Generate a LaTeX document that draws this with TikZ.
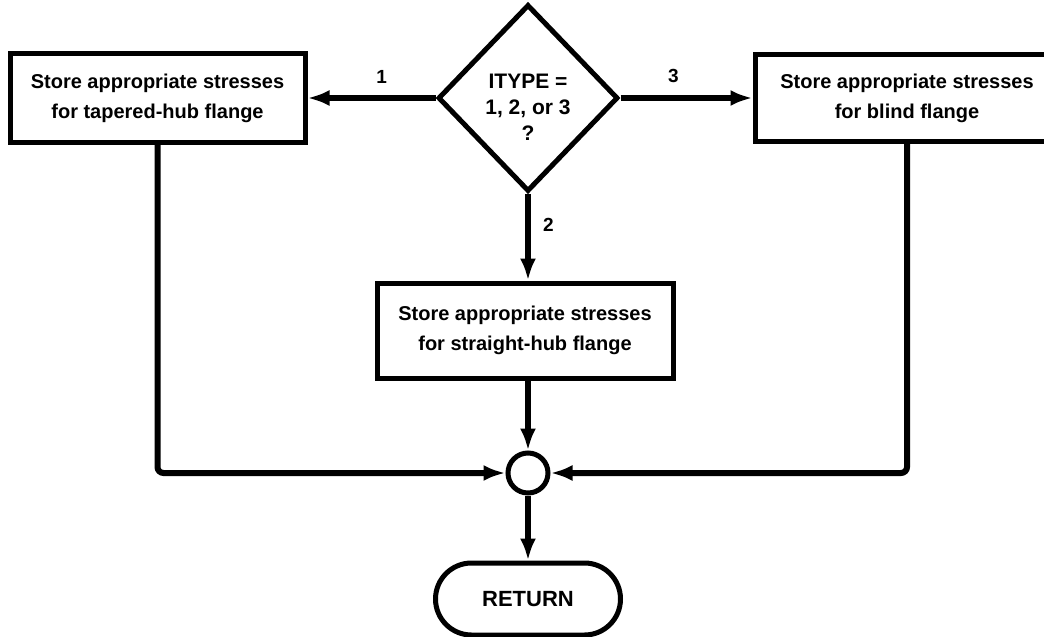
\documentclass[tikz,border=0pt]{standalone}
\usepackage{fontspec}
\setmainfont{Liberation Sans}
\usetikzlibrary{shapes.geometric,shapes.misc,arrows.meta}

\tikzset{
  flow/.style={line width=6pt, -{Latex[length=22pt,width=16pt]}},
  stepbox/.style={draw, line width=5pt, rectangle, align=center,
    font=\fontsize{20}{30}\selectfont\bfseries, inner sep=0pt},
  decision/.style={draw, line width=5pt, diamond, inner sep=0pt},
  junction/.style={draw, line width=5pt, circle, inner sep=0pt, minimum size=40pt},
  terminal/.style={draw, line width=5pt, rounded rectangle, inner sep=0pt,
    font=\fontsize{22}{25}\selectfont\bfseries},
  branch/.style={font=\fontsize{19}{20}\selectfont\bfseries, inner sep=0pt},
}

\begin{document}
\begin{tikzpicture}[x=1pt, y=-1pt]
  \useasboundingbox (0,0) rectangle (1044,637);
  \clip (0,0) rectangle (1044,637);

  % decision diamond and its question
  \node[decision, minimum width=180pt, minimum height=187pt] (dec) at (528,98) {};
  \node[align=center, inner sep=0pt, font=\fontsize{21}{26}\selectfont\bfseries]
    (q) at (528,107) {ITYPE =\\1, 2, or 3\\?};

  % processing boxes
  \node[stepbox, minimum width=295pt, minimum height=89pt] (lbox) at (157.5,98)
    {Store appropriate stresses\\for tapered-hub flange};
  \node[stepbox, minimum width=304pt, minimum height=87pt] (rbox) at (907,98)
    {Store appropriate stresses\\for blind flange};
  \node[stepbox, minimum width=296pt, minimum height=95pt] (mbox) at (525,330.5)
    {Store appropriate stresses\\for straight-hub flange};

  % collecting point and exit
  \node[junction] (circ) at (528,473) {};
  \node[terminal, minimum width=185pt, minimum height=72pt] (ret) at (528,599) {RETURN};

  % branches out of the decision
  \draw[flow] (dec.west) -- (lbox.east) node[branch, pos=0.42, above=12pt] (l1) {1};
  \draw[flow] (dec.east) -- (rbox.west) node[branch, pos=0.4, above=12pt] (l3) {3};
  \draw[flow] (dec.south) -- (dec.south |- mbox.north) node[branch, pos=0.36, right=12pt] (l2) {2};

  % paths into the collecting point
  \draw[flow, rounded corners=6pt] (lbox.south) |- (circ.west);
  \draw[flow, rounded corners=6pt] (rbox.south) |- (circ.east);
  \draw[flow] (circ |- mbox.south) -- (circ.north);
  \draw[flow] (circ.south) -- (ret.north);
\end{tikzpicture}
\end{document}
